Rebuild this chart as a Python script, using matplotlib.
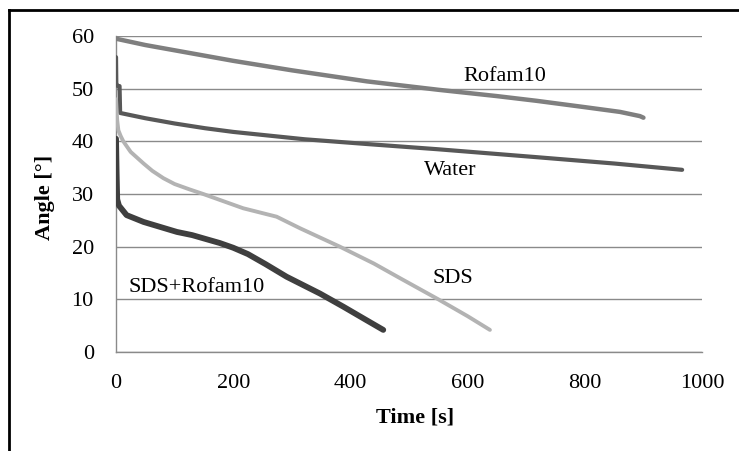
import matplotlib
matplotlib.use('Agg')
import matplotlib.pyplot as plt
from matplotlib.lines import Line2D

# Rofam10
t_rof = [0, 50, 100, 200, 300, 428, 550, 650, 718, 800, 860, 894, 900]
a_rof = [59.5, 58.3, 57.3, 55.3, 53.5, 51.4, 49.8, 48.6, 47.7, 46.5, 45.6, 44.8, 44.5]

# Water
t_wat = [0, 0.5, 3, 6, 7, 50, 100, 152, 200, 322, 428, 550, 718, 850, 966]
a_wat = [56, 51, 50.5, 50.5, 45.4, 44.4, 43.4, 42.5, 41.8, 40.4, 39.5, 38.5, 37.0, 35.8, 34.6]

# SDS
t_sds = [0, 2, 4, 8, 12.5, 25, 47, 62, 81, 100, 125, 149, 217, 274, 314, 382, 440, 485, 550, 600, 638]
a_sds = [48, 44, 42.1, 41, 40, 38, 35.8, 34.4, 33.0, 31.9, 30.9, 30.0, 27.3, 25.7, 23.5, 20.0, 16.8, 14.0, 10.0, 6.8, 4.2]

# SDS+Rofam10
t_mix = [0, 1, 2, 5, 18, 47, 104, 130, 155, 177, 200, 225, 255, 291, 348, 388, 425, 456]
a_mix = [40.5, 34, 29.0, 27.8, 26.0, 24.7, 22.8, 22.2, 21.4, 20.7, 19.8, 18.6, 16.7, 14.3, 11.1, 8.6, 6.2, 4.2]

labels = ['Rofam10', 'Water', 'SDS', 'SDS+Rofam10']
label_pos = [(663, 52.3), (570, 34.5), (575, 14.0), (138, 12.3)]

xticks = [0, 200, 400, 600, 800, 1000]
yticks = [0, 10, 20, 30, 40, 50, 60]

fig = plt.figure(figsize=(7.39, 4.51), dpi=100)
ax = fig.add_axes([0.157, 0.2195, 0.793, 0.7005])

ax.plot(t_rof, a_rof, color='#7f7f7f', lw=3.2, solid_capstyle='round', zorder=3)
ax.plot(t_wat, a_wat, color='#585858', lw=3.0, solid_capstyle='round', zorder=3)
ax.plot(t_sds, a_sds, color='#b3b3b3', lw=2.8, solid_capstyle='round', zorder=3)
ax.plot(t_mix, a_mix, color='#3f3f3f', lw=4.2, solid_capstyle='round', zorder=4)

for lab, (x, y) in zip(labels, label_pos):
    ax.text(x, y, lab, fontsize=16, family='Liberation Serif', ha='center', va='center',
            color='black', zorder=5)

ax.set_xlim(0, 1000)
ax.set_ylim(0, 60)
ax.set_xticks(xticks)
ax.set_yticks(yticks)
ax.grid(axis='y', color='#8a8a8a', lw=1)
ax.set_axisbelow(True)
for s in ['top', 'right']:
    ax.spines[s].set_visible(False)
for s in ['left', 'bottom']:
    ax.spines[s].set_color('#8a8a8a')
    ax.spines[s].set_linewidth(1)
ax.tick_params(length=0, labelsize=16, pad=16)
for lab in ax.get_xticklabels() + ax.get_yticklabels():
    lab.set_family('Liberation Serif')

ax.set_xlabel('Time [s]', fontsize=16, family='Liberation Serif', fontweight='bold')
ax.set_ylabel('Angle [°]', fontsize=16, family='Liberation Serif', fontweight='bold')
ax.xaxis.set_label_coords(0.51, -0.177)
ax.yaxis.set_label_coords(-0.104, 0.49)

# black frame round the picture (left and top edges)
fig.add_artist(Line2D([9/739, 1], [1 - 10/451, 1 - 10/451], color='black', lw=2, transform=fig.transFigure))
fig.add_artist(Line2D([9/739, 9/739], [0, 1 - 10/451], color='black', lw=2, transform=fig.transFigure))

plt.savefig('out.png', dpi=100)
